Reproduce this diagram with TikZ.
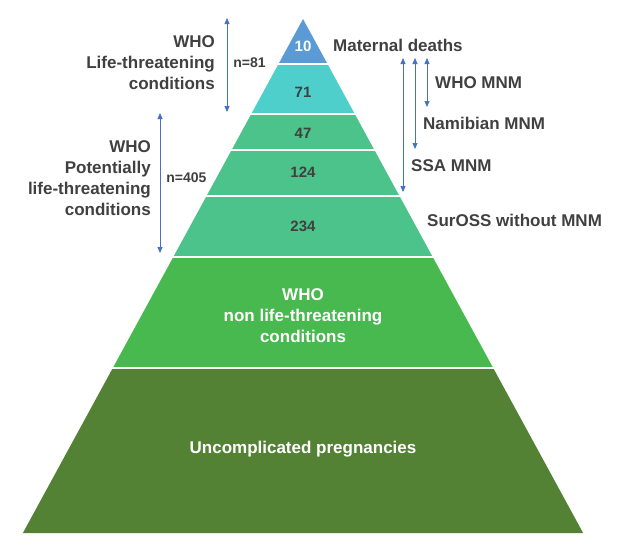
\documentclass[tikz,border=0pt]{standalone}
\usepackage{fontspec}
\setmainfont{Liberation Sans}
\usetikzlibrary{arrows.meta}
\definecolor{deathblue}{HTML}{5B9BD5}
\definecolor{mnmteal}{HTML}{4FCFCB}
\definecolor{plcgreen}{HTML}{4CC38A}
\definecolor{nltgreen}{HTML}{47B94E}
\definecolor{uncgreen}{HTML}{548235}
\definecolor{arrowblue}{HTML}{4472C4}
\definecolor{labelgray}{HTML}{404040}
\tikzset{
    % numbers inside the pyramid
    bandnum/.style={font=\fontsize{15}{18}\selectfont\bfseries,text=labelgray,inner sep=0pt},
    bandtext/.style={font=\fontsize{17}{21}\selectfont\bfseries,text=white,inner sep=0pt,align=center},
    sidetext/.style={font=\fontsize{17}{21}\selectfont\bfseries,text=labelgray,inner sep=0pt},
    counttext/.style={font=\fontsize{14}{17}\selectfont\bfseries,text=labelgray,inner sep=0pt},
    span/.style={{Triangle[length=6pt,width=5pt]}-{Triangle[length=6pt,width=5pt]},arrowblue,line width=0.8pt},
}

\begin{document}
\begin{tikzpicture}[x=1pt,y=-1pt]
    \useasboundingbox (0,0) rectangle (623,546);
    \foreach \ya/\yb/\col in {19/64/deathblue,64/114/mnmteal,114/257/plcgreen,257/368/nltgreen,368/533/uncgreen}
    \fill[\col] ({303-0.545*(\ya-19)},\ya) -- ({303+0.545*(\ya-19)},\ya) -- ({303+0.545*(\yb-19)},\yb) -- ({303-0.545*(\yb-19)},\yb) -- cycle;
    \foreach \y in {64,114,150,196,257,368}
    \draw[white,line width=1.5pt] ({303-0.545*(\y-19)-1},\y) -- ({303+0.545*(\y-19)+1},\y);
    \node[bandnum,text=white] (n10) at (303,46) {10};
    \node[bandnum] (n71) at (303,92) {71};
    \node[bandnum] (n47) at (303,133) {47};
    \node[bandnum] (n124) at (303,172) {124};
    \node[bandnum] (n234) at (303,226) {234};
    \node[bandtext] (nlt) at (303,316) {WHO\\non life-threatening\\conditions};
    \node[bandtext] (unc) at (303,449) {Uncomplicated pregnancies};
    % left side
    \node[sidetext,align=right,anchor=east] (lt) at (215,63) {WHO\\Life-threatening\\conditions};
    \node[sidetext,align=right,anchor=east] (plt) at (151,178) {WHO\\Potentially\\life-threatening\\conditions};
    \coordinate (lt top) at (227,18);
    \coordinate (lt bot) at (227,112);
    \coordinate (plt top) at (160,113);
    \coordinate (plt bot) at (160,253);
    \draw[span] (lt top) -- node[counttext,right=6pt,pos=0.48] (n81) {n=81} (lt bot);
    \draw[span] (plt top) -- node[counttext,right=6pt,pos=0.46] (n405) {n=405} (plt bot);
    % right side
    \node[sidetext,anchor=west] (deaths) at (333,45) {Maternal deaths};
    \node[sidetext,anchor=west] (whomnm) at (435,83) {WHO MNM};
    \node[sidetext,anchor=west] (nammnm) at (423,123) {Namibian MNM};
    \node[sidetext,anchor=west] (ssamnm) at (411,166) {SSA MNM};
    \node[sidetext,anchor=west] (suross) at (427,220) {SurOSS without MNM};
    \coordinate (ssa top) at (403,58);
    \coordinate (ssa bot) at (403,192);
    \coordinate (nam top) at (415,58);
    \coordinate (nam bot) at (415,149);
    \coordinate (who top) at (427,58);
    \coordinate (who bot) at (427,107);
    \draw[span] (ssa top) -- (ssa bot);
    \draw[span] (nam top) -- (nam bot);
    \draw[span] (who top) -- (who bot);
\end{tikzpicture}
\end{document}
